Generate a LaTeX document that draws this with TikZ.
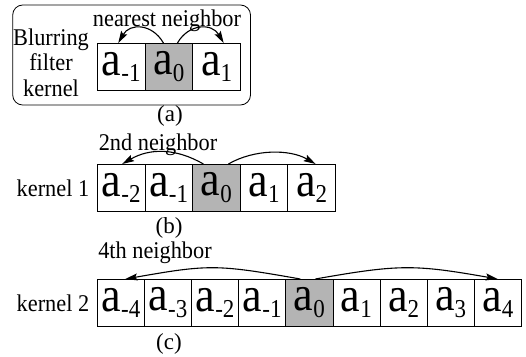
\documentclass[tikz,border=0pt]{standalone}
\usepackage{fontspec}
\setmainfont{Liberation Serif}
\usetikzlibrary{arrows.meta}
\definecolor{cellgray}{RGB}{180,180,180}
% kernel coefficient a_k, drawn tall
\newcommand\acell[1]{\raisebox{-3pt}{\scalebox{1}[1.12]{\fontsize{44}{44}\selectfont a\raisebox{-6pt}{\fontsize{23}{23}\selectfont #1}}}}
% caption text, set slightly narrow
\newcommand\lbl[1]{\scalebox{0.93}[1]{#1}}

\begin{document}
\begin{tikzpicture}[x=1pt,y=1pt,
  cellbox/.style={draw, line width=0.8pt, inner sep=0pt, minimum height=47pt, anchor=north west},
  hop/.style={-{Stealth[length=12pt,width=7pt,inset=2pt]}, line width=1.1pt},
  lab/.style={inner sep=0pt, anchor=base, font=\fontsize{24}{25.5}\selectfont},
  subcap/.style={inner sep=0pt, anchor=center, font=\fontsize{23}{25}\selectfont}]
\useasboundingbox (0,0) rectangle (526,-356);

% (a) nearest-neighbour blurring kernel
\draw[line width=0.8pt, rounded corners=10pt] (12.7,-5) rectangle (250.5,-105);
\foreach \n/\s/\f [count=\k from 0] in {m1/-1/white, 0/0/cellgray, 1/1/white}
  \node[cellbox, minimum width=47.7pt, fill=\f]
    (a\n) at (97+\k*47.7,-43) {\acell{\s}};
\node[lab] (nn) at (167,-26.7) {\lbl{nearest neighbor}};
\node[lab, anchor=center, align=center] (bfk) at (51,-62.3) {\lbl{Blurring}\\\lbl{filter}\\\lbl{kernel}};
\node[subcap] (capa) at (170,-115.5) {(a)};
\draw[hop] ([xshift=-5.5pt]a0.north) .. controls +(120:23) and +(60:23) .. ([xshift=-3pt]am1.north);
\draw[hop] ([xshift=8.5pt]a0.north) .. controls +(60:23) and +(120:23) .. ([xshift=7pt]a1.north);

% (b) kernel 1, second neighbours
\foreach \n/\s/\f [count=\k from 0] in {m2/-2/white, m1/-1/white, 0/0/cellgray, 1/1/white, 2/2/white}
  \node[cellbox, minimum width=47.6pt, fill=\f]
    (b\n) at (97+\k*47.6,-164) {\acell{\s}};
\node[lab] (k1) at (53,-196.7) {\lbl{kernel 1}};
\node[lab] (sn) at (158,-150.7) {\lbl{2nd neighbor}};
\node[subcap] (capb) at (169,-228) {(b)};
\draw[hop] ([xshift=-13pt]b0.north) .. controls +(150:32) and +(30:32) .. ([xshift=1pt]bm2.north);
\draw[hop] ([xshift=12pt]b0.north) .. controls +(30:30) and +(150:30) .. ([xshift=4pt]b2.north);

% (c) kernel 2, fourth neighbours
\foreach \n/\s/\f [count=\k from 0] in {m4/-4/white, m3/-3/white, m2/-2/white, m1/-1/white, 0/0/cellgray, 1/1/white, 2/2/white, 3/3/white, 4/4/white}
  \node[cellbox, minimum width=47.1pt, fill=\f]
    (c\n) at (97+\k*47.1,-279) {\acell{\s}};
\node[lab] (k2) at (53,-311.5) {\lbl{kernel 2}};
\node[lab] (fn) at (155,-258.3) {\lbl{4th neighbor}};
\node[subcap] (capc) at (169,-344) {(c)};
\draw[hop] ([xshift=-9pt]c0.north) .. controls +(170:85) and +(10:85) .. ([xshift=4.5pt]cm4.north);
\draw[hop] ([xshift=6pt]c0.north) .. controls +(10:85) and +(170:85) .. (c4.north);
\end{tikzpicture}
\end{document}
